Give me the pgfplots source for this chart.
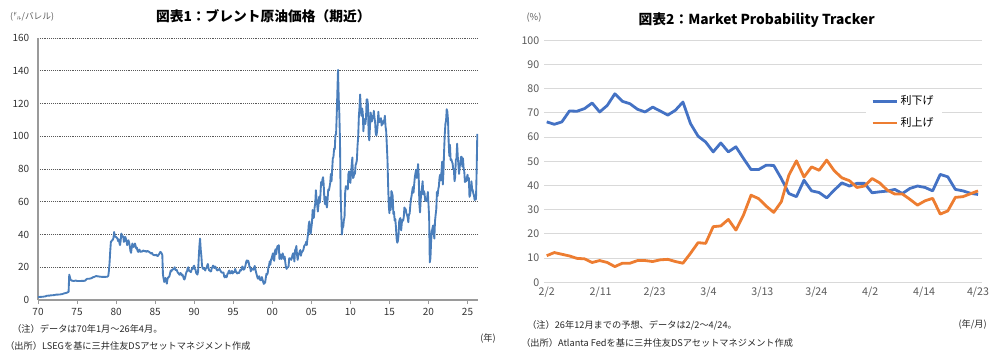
\documentclass[border=0pt]{standalone}
\usepackage{fontspec}
\setmainfont{Noto Sans CJK JP}
\usepackage{pgfplots}
\usepackage{pgfplotstable}
\pgfplotsset{compat=1.18}
\definecolor{brent}{HTML}{4A7EBB}
\definecolor{cut}{HTML}{4472C4}
\definecolor{hike}{HTML}{ED7D31}
\definecolor{gridlt}{HTML}{D9D9D9}
\definecolor{txt}{HTML}{595959}
\definecolor{axgray}{HTML}{9A9A9A}

% Brent month-end, Jan 1970 - Apr 2026 (one value per month)
\pgfplotstableread[row sep=\\, header=false]{
1.8\\1.8\\1.8\\1.9\\1.9\\1.9\\2.0\\2.0\\2.0\\2.1\\2.1\\2.2\\
2.3\\2.5\\2.6\\2.6\\2.7\\2.7\\2.7\\2.8\\2.8\\2.9\\2.9\\2.9\\
3.0\\3.0\\3.1\\3.2\\3.3\\3.3\\3.3\\3.3\\3.4\\3.4\\3.4\\3.5\\
3.5\\3.6\\3.7\\3.9\\4.0\\4.1\\4.2\\4.3\\4.4\\4.6\\4.8\\5.0\\
15.5\\14.0\\12.5\\12.0\\11.8\\11.8\\11.6\\11.6\\11.7\\11.8\\11.8\\11.8\\
11.6\\11.6\\11.6\\11.6\\11.6\\11.6\\11.6\\11.7\\11.7\\11.7\\11.7\\11.7\\
11.8\\12.0\\12.5\\12.8\\13.0\\13.0\\13.0\\13.0\\13.1\\13.2\\13.3\\13.5\\
13.8\\14.0\\14.0\\14.2\\14.4\\14.6\\14.6\\14.5\\14.4\\14.4\\14.3\\14.3\\
14.2\\14.2\\14.1\\14.1\\14.1\\14.1\\14.1\\14.1\\14.1\\14.2\\14.2\\14.3\\
14.8\\18\\23\\30\\35.5\\36\\36.5\\36.8\\38\\41.5\\39\\38.6\\
38.5\\38\\37.6\\36\\37\\35\\33.5\\36\\40.6\\38.6\\39\\38.6\\
35.5\\36\\38.6\\37.5\\36\\33.5\\35\\36.5\\35\\33\\30\\28.8\\
32\\34.5\\33\\32.4\\33\\34.5\\33\\31.4\\32\\30\\29.4\\30\\
30.8\\29.5\\29.4\\29.8\\29.5\\30\\30.2\\30\\29.8\\30\\29.6\\29.4\\
30\\29.8\\29.5\\29.4\\29\\28.6\\28.4\\28.8\\28\\27.6\\27.5\\27.3\\
27.5\\27.3\\27.6\\27\\26.8\\27.3\\28\\28.6\\29.4\\29\\28.5\\27.5\\
15.5\\13\\11\\12\\13.5\\11.5\\10\\12.8\\13.8\\14\\14.6\\16.5\\
18\\17.5\\18.5\\18.5\\19\\19.2\\20\\18.5\\18.2\\18.5\\17.5\\16.5\\
16.5\\15.5\\15.5\\16.5\\16\\15\\15.5\\14.5\\13\\12.5\\13.5\\15.5\\
17\\17.5\\19.5\\20\\18\\17.5\\17.5\\17\\18.5\\19.5\\19\\20.5\\
21\\19\\18.5\\16.5\\16\\15.5\\17.5\\26\\33\\37.5\\31\\27\\
21\\19.5\\19\\19.5\\19\\18\\19.5\\19.5\\21\\22\\19.5\\18\\
18\\17.5\\17.5\\19.5\\20\\21\\20\\19.5\\20.5\\20\\19\\18.2\\
18\\18.5\\18.8\\19\\18\\17.5\\16.8\\16.8\\16.5\\16.8\\14.5\\13.8\\
14.8\\13.9\\14\\15.8\\16.2\\17.5\\18\\16.2\\16.5\\16.5\\17.8\\16.2\\
16.8\\17.2\\17\\19\\17.5\\16.8\\16.2\\16.5\\16.8\\16.5\\17.5\\18.5\\
18\\19\\20.5\\19.8\\18.5\\18.8\\19.8\\21.5\\23.5\\24.2\\23\\24\\
22.5\\20\\20.2\\17.5\\19\\18.5\\19\\18.5\\19.5\\20.8\\19\\17\\
15.5\\14\\13\\14\\14.5\\12.5\\12\\12.2\\14\\12.5\\11\\9.8\\
11\\10.5\\13.5\\16\\15.5\\16.5\\20\\21\\23.5\\21.5\\24.5\\25.5\\
27\\28.5\\24.5\\24\\29.5\\31\\28\\31\\33\\32.5\\33.5\\25\\
28\\27\\25\\27\\28.5\\26\\25\\26.5\\23\\20\\19\\19.8\\
20\\20.5\\25.5\\25.5\\25\\24.5\\25.5\\27.5\\28.5\\27\\23.5\\30.5\\
31\\33\\27.5\\24.5\\27.5\\28\\29.5\\30.5\\27\\29\\29.5\\30\\
31\\33\\33.5\\34\\35.5\\33.5\\37.5\\40.5\\46\\48\\42.5\\40.5\\
44\\47.5\\55\\50\\50.5\\56.5\\59\\67\\62\\58\\54\\58\\
63\\59.5\\64.5\\72\\70\\73.5\\75\\70.5\\61.5\\58.5\\63\\58.5\\
56.5\\61.5\\67.5\\67\\69\\71.5\\77\\72.5\\79.5\\86.5\\87.5\\92.5\\
92\\101\\101\\113\\127\\140.5\\124\\114\\98\\64\\52\\40\\
45\\44.5\\49\\50.5\\65.5\\69.5\\69\\69.5\\67.5\\77\\78.5\\77.5\\
71.5\\77.5\\82.5\\87\\74.5\\75\\78\\77\\82.5\\83.5\\85.5\\94.5\\
99.5\\112\\117.5\\125.5\\116.5\\112.5\\117\\114.5\\103\\109.5\\110.5\\107.5\\
111\\122.5\\122.5\\119.5\\101.5\\97.5\\105\\114.5\\112.5\\109\\111.5\\111\\
115.5\\111.5\\108.5\\101.5\\100.5\\103\\107.5\\115\\108.5\\109\\110.5\\111\\
106.5\\109\\107.5\\109.5\\109.5\\112.5\\106\\103\\94.5\\85.5\\70\\57.5\\
53\\62.5\\55\\66.5\\65.5\\63.5\\52.5\\54\\48.5\\49.5\\44.5\\37.5\\
35\\36\\39.5\\48\\49.5\\50\\42.5\\47\\49\\48.5\\50.5\\56.5\\
55.5\\55.5\\53\\52\\50.5\\47.5\\52.5\\52.5\\57.5\\61.5\\63.5\\66.5\\
69\\65.5\\70.5\\75\\77.5\\79.5\\74.5\\77.5\\83\\75.5\\58.5\\53.5\\
61\\66\\68.5\\72.5\\64.5\\66.5\\65\\60.5\\61\\60.5\\62.5\\66\\
58.5\\50.5\\23\\25.5\\35.5\\41.5\\43.5\\45.5\\41\\37.5\\48\\52\\
55.5\\66\\63.5\\67.5\\69.5\\75\\76.5\\73\\78.5\\84.5\\70.5\\78\\
91\\101\\107.5\\109.5\\116.5\\115\\110\\96.5\\88\\94.8\\85.5\\86\\
84.5\\83.5\\80\\80\\72.5\\75\\85.5\\86.5\\95.5\\87.5\\82.5\\77\\
81.5\\83.5\\87.5\\87.5\\81.5\\86.5\\80.5\\78.5\\72\\73\\72.5\\74.5\\
76.5\\73\\74.5\\63\\64\\67.5\\72.5\\68\\67\\65\\63.5\\61\\
64\\61.5\\79\\101.5\\
}\brentdata

\begin{document}
\begin{tikzpicture}[x=1pt,y=1pt]
\useasboundingbox (0,0) rectangle (748.5,267.75);

% ---------- Left chart ----------
\begin{axis}[
  at={(28.5pt,42.75pt)}, anchor=south west,
  scale only axis, width=330pt, height=196.5pt,
  xmin=1970, xmax=2026.34, ymin=0, ymax=160,
  axis x line*=bottom, axis y line*=left,
  axis line style={color=axgray, line width=0.8pt},
  xtick={1970,1975,1980,1985,1990,1995,2000,2005,2010,2015,2020,2025},
  xticklabels={70,75,80,85,90,95,00,05,10,15,20,25},
  ytick={0,20,40,60,80,100,120,140,160},
  ymajorgrids,
  major grid style={densely dotted, color=black!65, line width=0.6pt},
  tick align=outside, major tick length=3pt,
  xtick style={color=axgray, line width=0.6pt},
  ytick style={draw=none},
  tick label style={font=\fontsize{7.5}{8}\selectfont, color=black!80},
  /pgf/number format/assume math mode=true,
  clip=false,
]
\addplot[brent, line width=1.4pt, no markers, line join=round]
  table[x expr=1970+\coordindex/12, y index=0]{\brentdata};
\end{axis}

% ---------- Right chart ----------
\begin{axis}[
  at={(408pt,56pt)}, anchor=south west,
  scale only axis, width=328.3pt, height=181.5pt,
  xmin=-0.36, xmax=57.49, ymin=0, ymax=100,
  axis line style={draw=none},
  xtick={0,7.125,14.25,21.375,28.5,35.625,42.75,49.875,57},
  xticklabels={2/2,2/11,2/23,3/4,3/13,3/24,4/2,4/14,4/23},
  ytick={0,10,...,100},
  ymajorgrids,
  major grid style={solid, color=gridlt, line width=0.75pt},
  tick style={draw=none},
  tick label style={font=\fontsize{8}{9}\selectfont, color=txt},
  /pgf/number format/assume math mode=true,
  legend style={at={(0.735,0.80)}, anchor=north west, draw=none, fill=white,
    font=\fontsize{8.25}{9}\selectfont, row sep=4pt, inner xsep=4pt, inner ysep=3pt,
    /tikz/every even column/.append style={column sep=1pt}},
  legend cell align=left,
  legend image code/.code={\draw[#1, line width=2pt] (0pt,0pt) -- (18pt,0pt);},
]
\addplot[cut, line width=2.1pt, no markers, line join=round]
  table[row sep=\\, header=false, x expr=\coordindex, y index=0]{
66.3\\65.3\\66.3\\70.8\\70.7\\71.8\\74.1\\70.4\\73.1\\77.9\\
74.8\\73.8\\71.5\\70.4\\72.4\\70.8\\69.1\\71.1\\74.5\\65.6\\
60.4\\58.0\\53.9\\57.6\\53.9\\56.0\\51.2\\46.6\\46.6\\48.4\\
48.3\\42.9\\36.7\\35.4\\42.2\\37.8\\37.1\\34.9\\38.1\\41.1\\
39.8\\40.9\\40.9\\37.0\\37.4\\37.7\\38.4\\36.7\\38.8\\39.8\\
39.2\\37.8\\44.6\\43.6\\38.4\\37.8\\36.8\\36.3\\
};
\addlegendentry{利下げ}
\addplot[hike, line width=2.1pt, no markers, line join=round]
  table[row sep=\\, header=false, x expr=\coordindex, y index=0]{
11.0\\12.3\\11.6\\10.9\\9.9\\9.7\\8.2\\9.0\\8.2\\6.5\\
7.9\\7.9\\9.0\\9.0\\8.6\\9.3\\9.5\\8.6\\7.9\\12.0\\
16.4\\16.1\\23.0\\23.3\\26.0\\21.6\\27.8\\36.0\\34.6\\31.5\\
28.9\\33.3\\44.3\\50.2\\43.5\\47.7\\46.3\\50.5\\46.1\\43.2\\
42.0\\39.2\\39.8\\42.9\\41.1\\38.1\\36.5\\36.5\\34.3\\31.9\\
33.7\\34.7\\28.2\\29.5\\35.1\\35.4\\36.6\\37.8\\
};
\addlegendentry{利上げ}
\end{axis}

% ---------- Texts ----------
\node[font=\bfseries\fontsize{10.3}{12}\selectfont] at (197.5,255.3) {図表1：ブレント原油価格（期近）};
\node[font=\fontsize{6.5}{7}\selectfont, color=txt] at (24,254.8) {(㌦/バレル)};
\node[font=\bfseries\fontsize{10.3}{12}\selectfont] at (567.5,252.75) {図表2：Market Probability Tracker};
\node[font=\fontsize{7}{8}\selectfont, color=txt] at (400.5,254.5) {(\%)};

\node[font=\fontsize{6.9}{7}\selectfont, anchor=west, inner sep=0pt, color=black!85] at (9,21) {（注）データは70年1月～26年4月。};
\node[font=\fontsize{6.9}{7}\selectfont, anchor=west, inner sep=0pt, color=black!85] at (3.75,8.25) {（出所）LSEGを基に三井住友DSアセットマネジメント作成};
\node[font=\fontsize{6.9}{7}\selectfont, color=black!85] at (366,13.5) {(年)};

\node[font=\fontsize{6.9}{7}\selectfont, anchor=west, inner sep=0pt, color=black!85] at (395.25,24) {（注）26年12月までの予想、データは2/2～4/24。};
\node[font=\fontsize{6.9}{7}\selectfont, anchor=west, inner sep=0pt, color=black!85] at (390.75,10.5) {（出所）Atlanta Fedを基に三井住友DSアセットマネジメント作成};
\node[font=\fontsize{6.9}{7}\selectfont, color=black!85] at (729.5,24) {(年/月)};
\end{tikzpicture}
\end{document}
